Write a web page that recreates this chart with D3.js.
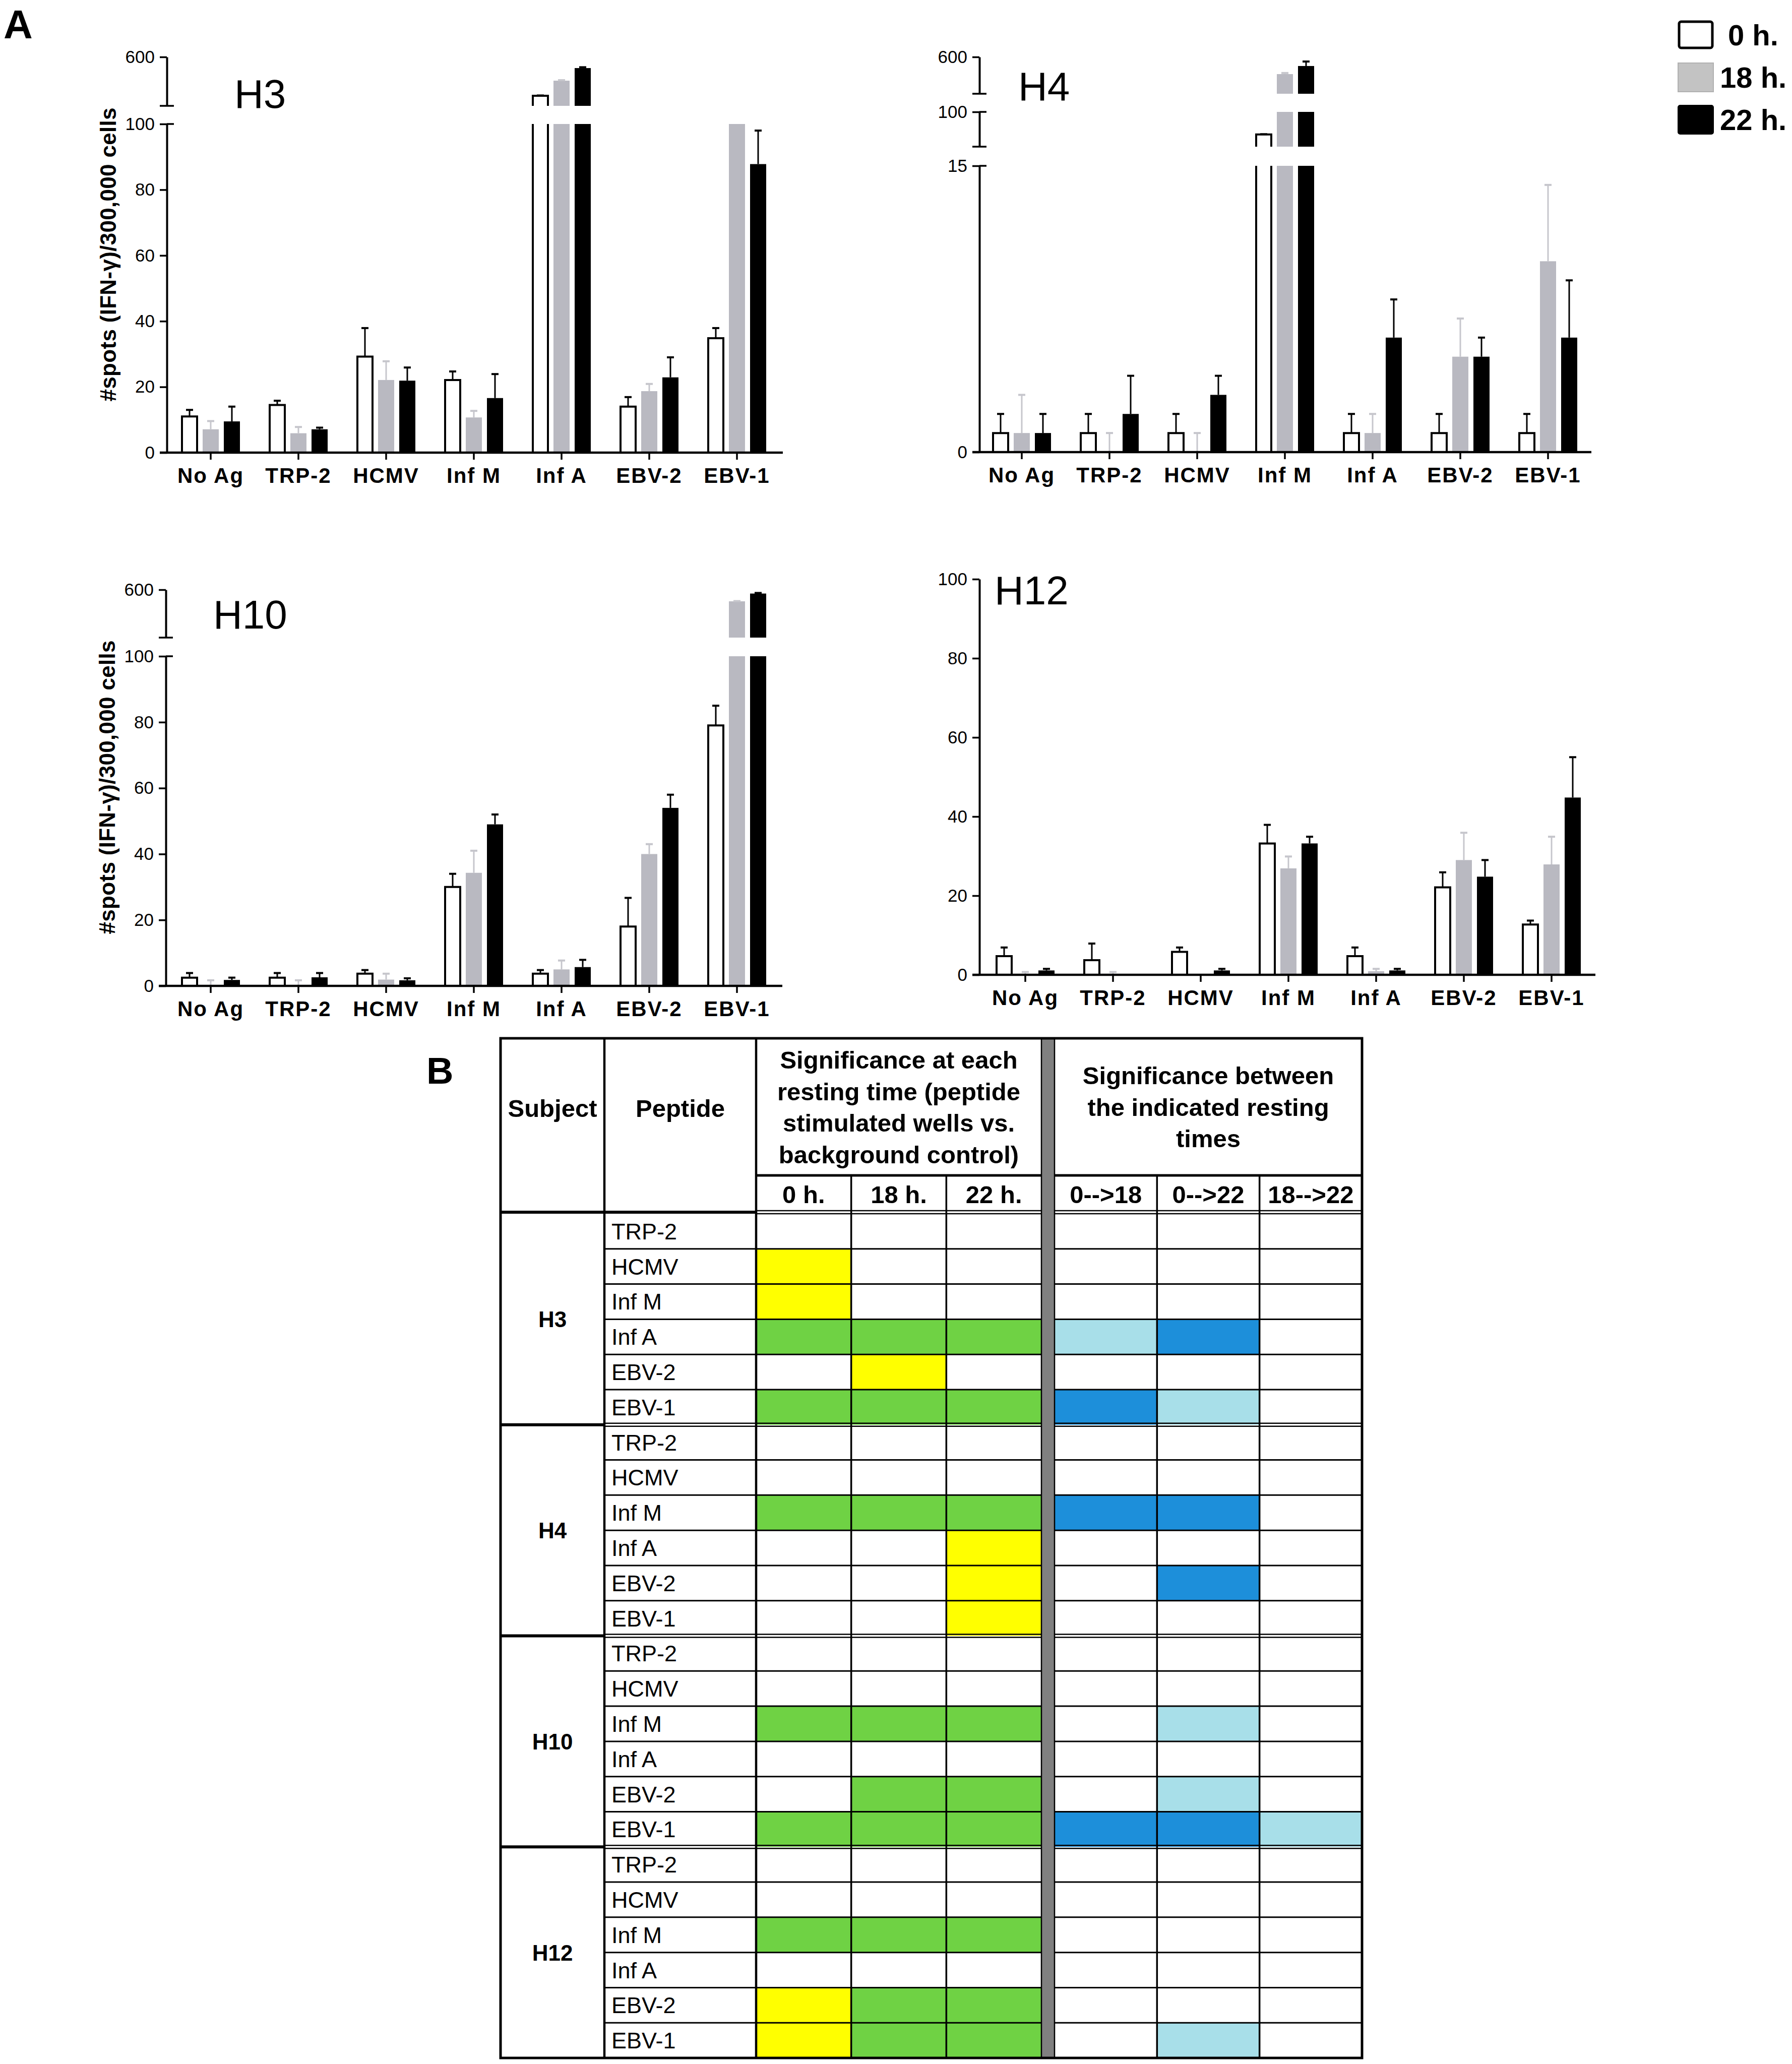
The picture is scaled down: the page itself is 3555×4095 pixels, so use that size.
<!DOCTYPE html>
<html><head><meta charset="utf-8">
<script src="https://cdn.jsdelivr.net/npm/d3@7"></script>
<style>
body{margin:0;background:#fff}
svg{display:block}
text{font-family:"Liberation Sans",Arial,Helvetica,sans-serif;fill:#000}
</style>
</head><body>
<script>
// ---------------- DATA ----------------
const categories = ["No Ag","TRP-2","HCMV","Inf M","Inf A","EBV-2","EBV-1"];
const seriesNames = ["0 h.","18 h.","22 h."];

// H3 (#spots / 300,000 cells), means and SD
const h3_0h  = [11, 14.5, 29.2, 22.1, 282, 14, 34.8];
const h3_18h = [7.1, 5.9, 22.1, 10.7, 406, 18.7, 140];
const h3_22h = [9.5, 7.1, 21.9, 16.6, 509, 22.9, 87.8];
const h3_0h_sd  = [2, 1.3, 8.7, 2.6, 3, 2.9, 3.1];
const h3_18h_sd = [2.5, 1.9, 5.7, 2, 4, 2.2, 0];
const h3_22h_sd = [4.5, 0.5, 4, 7.3, 7, 6.1, 10.2];
const h3Segments = [[0,100],[200,600]];
const h3Ticks = [[0,20,40,60,80,100],[600]];

// H4
const h4_0h  = [1, 1, 1, 45, 1, 1, 1];
const h4_18h = [1, 0, 0, 367, 1, 5, 10];
const h4_22h = [1, 2, 3, 477, 6, 5, 6];
const h4_0h_sd  = [1, 1, 1, 0.5, 1, 1, 1];
const h4_18h_sd = [2, 1, 1, 15, 1, 2, 4];
const h4_22h_sd = [1, 2, 1, 61, 2, 1, 3];
const h4Segments = [[0,15],[15,100],[100,600]];
const h4Ticks = [[0,15],[100],[600]];

// H10
const h10_0h  = [2.5, 2.5, 3.7, 30, 3.7, 18, 79];
const h10_18h = [0.3, 0.3, 1.9, 34.3, 5, 40, 503];
const h10_22h = [1.8, 2.6, 1.7, 49, 5.7, 54, 568];
const h10_0h_sd  = [1.4, 1.4, 1.1, 4, 1.1, 8.7, 6];
const h10_18h_sd = [1.4, 1.4, 1.8, 6.7, 2.7, 3, 2];
const h10_22h_sd = [0.7, 1.3, 0.6, 3, 2.2, 4, 5];
const h10Segments = [[0,100],[200,600]];
const h10Ticks = [[0,20,40,60,80,100],[600]];

// H12
const h12_0h  = [4.7, 3.7, 5.8, 33.2, 4.7, 22.1, 12.7];
const h12_18h = [0, 0, 0, 26.9, 0.9, 29, 27.9];
const h12_22h = [1.1, 0, 1.1, 33.2, 1.1, 24.8, 44.8];
const h12_0h_sd  = [2.2, 4.2, 1.1, 4.7, 2.2, 3.8, 1];
const h12_18h_sd = [0.7, 0.7, 0, 3, 0.6, 6.9, 7];
const h12_22h_sd = [0.4, 0, 0.4, 1.7, 0.4, 4.2, 10.2];
const h12Segments = [[0,100]];
const h12Ticks = [[0,20,40,60,80,100]];

const yAxisTitle = "#spots (IFN-\u03b3)/300,000 cells";

// Table B
const subjects = ["H3","H4","H10","H12"];
const peptides = ["TRP-2","HCMV","Inf M","Inf A","EBV-2","EBV-1"];
const timeCols = ["0 h.","18 h.","22 h."];
const changeCols = ["0-->18","0-->22","18-->22"];
// codes: Y = yellow, G = green, L = light blue, D = dark blue, - = none
const sigH3  = ["------","Y-----","Y-----","GGGLD-","-Y----","GGGDL-"];
const sigH4  = ["------","------","GGGDD-","--Y---","--Y-D-","--Y---"];
const sigH10 = ["------","------","GGG-L-","------","-GG-L-","GGGDDL"];
const sigH12 = ["------","------","GGG---","------","YGG---","YGG-L-"];
const headerLeft = ["Significance at each","resting time (peptide","stimulated wells vs.","background control)"];
const headerRight = ["Significance between","the indicated resting","times"];

// ---------------- DRAWING ----------------
const W = 3555, H = 4095;
const svg = d3.select("body").append("svg").attr("width", W).attr("height", H);

const barFill = ["#ffffff", "#b9b9c1", "#000000"];
const errColor = ["#000000", "#c6c6cc", "#000000"];

const panels = [
  {name:"H3", means:[h3_0h,h3_18h,h3_22h], sds:[h3_0h_sd,h3_18h_sd,h3_22h_sd], segs:h3Segments, ticks:h3Ticks,
   ranges:[[898,246],[210,113]], axisX:331, x0:331, x1:1549, xEnd:1553, title:[465,214], yLabel:[230,505]},
  {name:"H4", means:[h4_0h,h4_18h,h4_22h], sds:[h4_0h_sd,h4_18h_sd,h4_22h_sd], segs:h4Segments, ticks:h4Ticks,
   ranges:[[897,329],[291,222],[186,113]], axisX:1943, x0:1940, x1:3158, xEnd:3157, title:[2020,199]},
  {name:"H10", means:[h10_0h,h10_18h,h10_22h], sds:[h10_0h_sd,h10_18h_sd,h10_22h_sd], segs:h10Segments, ticks:h10Ticks,
   ranges:[[1956,1302],[1265,1170]], axisX:329, x0:331, x1:1549, xEnd:1552, title:[423,1247], yLabel:[228,1562]},
  {name:"H12", means:[h12_0h,h12_18h,h12_22h], sds:[h12_0h_sd,h12_18h_sd,h12_22h_sd], segs:h12Segments, ticks:h12Ticks,
   ranges:[[1934,1149]], axisX:1943, x0:1947, x1:3165, xEnd:3165, title:[1973,1199]}
];

function drawPanel(p){
  const g = svg.append("g");
  const x = d3.scaleBand().domain(categories).range([p.x0, p.x1]);
  const off = d3.scalePoint().domain(seriesNames).range([-42, 42]);
  const ys = p.segs.map((d,i)=>d3.scaleLinear().domain(d).range(p.ranges[i]));
  const base = p.ranges[0][0];

  // bars
  p.means.forEach((arr, s)=>{
    arr.forEach((v, i)=>{
      const cx = x(categories[i]) + x.bandwidth()/2 + off(seriesNames[s]);
      ys.forEach((y)=>{
        const [d0, d1] = y.domain();
        if (v <= d0) return;
        const top = Math.min(v, d1), yT = y(top), yB = y(d0);
        const closed = v <= d1;
        if (s === 0){
          const l = cx-15, r = cx+15;
          g.append("path")
            .attr("d", `M${l},${yB}V${yT}` + (closed ? `H${r}` : `M${r},${yT}`) + `V${yB}`)
            .attr("fill","none").attr("stroke","#000").attr("stroke-width",4);
        } else {
          g.append("rect").attr("x", cx-16).attr("width", 32)
            .attr("y", yT).attr("height", yB-yT).attr("fill", barFill[s]);
        }
      });
      // error bar
      const sd = p.sds[s][i];
      if (sd > 0){
        const y = ys.find(y=>{const [d0,d1]=y.domain(); return v>=d0 && v<=d1;});
        if (y){
          const y1 = y(v), y2 = y(Math.min(v+sd, y.domain()[1]));
          g.append("line").attr("x1",cx).attr("x2",cx).attr("y1",y1).attr("y2",y2)
            .attr("stroke",errColor[s]).attr("stroke-width",3);
          g.append("line").attr("x1",cx-7).attr("x2",cx+7).attr("y1",y2).attr("y2",y2)
            .attr("stroke",errColor[s]).attr("stroke-width",4);
        }
      }
    });
  });

  // y axis segments
  ys.forEach((y,k)=>{
    const ax = d3.axisLeft(y).tickValues(p.ticks[k]).tickSize(14).tickSizeOuter(0).tickPadding(10).tickFormat(d3.format("d"));
    const ag = g.append("g").attr("transform",`translate(${p.axisX},0)`).call(ax);
    ag.select(".domain").attr("stroke","#000").attr("stroke-width",4);
    ag.selectAll(".tick line").attr("stroke","#000").attr("stroke-width",3.5);
    ag.selectAll(".tick text").attr("font-size",35).attr("font-family",'"Liberation Sans",Arial,sans-serif').attr("fill","#000");
    if (k < ys.length-1){
      g.append("line").attr("x1",p.axisX).attr("x2",p.axisX+14).attr("y1",y.range()[1]).attr("y2",y.range()[1])
        .attr("stroke","#000").attr("stroke-width",3.5);
    }
    if (k > 0){
      g.append("line").attr("x1",p.axisX-14).attr("x2",p.axisX+14).attr("y1",y.range()[0]).attr("y2",y.range()[0])
        .attr("stroke","#000").attr("stroke-width",3.5);
    }
  });

  // x axis
  const xa = d3.axisBottom(x).tickSize(14).tickSizeOuter(0).tickPadding(16);
  const xg = g.append("g").attr("transform",`translate(0,${base})`).call(xa);
  xg.select(".domain").remove();
  xg.selectAll(".tick line").attr("stroke","#000").attr("stroke-width",3.5);
  xg.selectAll(".tick text").attr("font-size",42).attr("font-weight","bold")
    .attr("letter-spacing",2).attr("font-family",'"Liberation Sans",Arial,sans-serif').attr("fill","#000");
  xg.append("line").attr("x1",p.axisX-14).attr("x2",p.xEnd).attr("y1",0).attr("y2",0)
    .attr("stroke","#000").attr("stroke-width",4.5);

  // title
  g.append("text").attr("x",p.title[0]).attr("y",p.title[1]).attr("font-size",80).text(p.name);

  if (p.yLabel){
    g.append("text").attr("transform",`translate(${p.yLabel[0]},${p.yLabel[1]}) rotate(-90)`)
      .attr("text-anchor","middle").attr("font-size",44).attr("font-weight","bold")
      .attr("textLength",583).attr("lengthAdjust","spacing").text(yAxisTitle);
  }
}
panels.forEach(drawPanel);

// Legend
const leg = svg.append("g");
seriesNames.forEach((n,i)=>{
  const y0 = 41 + i*84;
  if (i === 0){
    leg.append("rect").attr("x",3331).attr("y",y0+2).attr("width",66).attr("height",52).attr("rx",4)
      .attr("fill","#fff").attr("stroke","#000").attr("stroke-width",5);
  } else {
    leg.append("rect").attr("x",3329).attr("y",y0).attr("width",70).attr("height",57).attr("rx",i===2?4:0)
      .attr("fill", i===1 ? "#c3c3c3" : "#000").attr("stroke", i===1 ? "#b0b0b0" : "#000").attr("stroke-width",2);
  }
  leg.append("text").attr("x", i===0 ? 3428 : 3412).attr("y", y0+49).attr("font-size",58).attr("font-weight","bold").text(n);
});

// panel letters
svg.append("text").attr("x",7).attr("y",76).attr("font-size",80).attr("font-weight","bold").text("A");
svg.append("text").attr("x",846).attr("y",2150).attr("font-size",74).attr("font-weight","bold").text("B");

// ---------------- TABLE ----------------
const T = {left:993, subjR:1199, pepR:1500, sepL:2066, sepR:2092, right:2702, top:2060, mid:2332, hdrB:2405, bodyTop:2408, bottom:4083};
const sigAll = [sigH3, sigH4, sigH10, sigH12];
const nRows = subjects.length * peptides.length;
const rowY = d3.scaleLinear().domain([0, nRows]).range([T.bodyTop, T.bottom]);
const rowH = rowY(1) - rowY(0);
const leftCols = d3.scaleBand().domain(timeCols).range([T.pepR, T.sepL]);
const rightCols = d3.scaleBand().domain(changeCols).range([T.sepR, T.right]);
const allCols = timeCols.map(c=>[leftCols(c), leftCols(c)+leftCols.bandwidth()])
  .concat(changeCols.map(c=>[rightCols(c), rightCols(c)+rightCols.bandwidth()]));
const sigColor = {Y:"#ffff00", G:"#6fd244", L:"#a8dfe9", D:"#1d8fda"};

const tg = svg.append("g");
// fills
sigAll.forEach((rows, si)=>{
  rows.forEach((codes, pi)=>{
    const r = si*peptides.length + pi;
    codes.split("").forEach((c, ci)=>{
      if (sigColor[c]){
        tg.append("rect").attr("x", allCols[ci][0]).attr("y", rowY(r))
          .attr("width", allCols[ci][1]-allCols[ci][0]).attr("height", rowH).attr("fill", sigColor[c]);
      }
    });
  });
});

function hline(x1,x2,y,w){ tg.append("line").attr("x1",x1).attr("x2",x2).attr("y1",y).attr("y2",y).attr("stroke","#000").attr("stroke-width",w); }
function vline(x,y1,y2,w){ tg.append("line").attr("x1",x).attr("x2",x).attr("y1",y1).attr("y2",y2).attr("stroke","#000").attr("stroke-width",w); }

// row lines
for (let r = 1; r < nRows; r++){
  const y = rowY(r);
  if (r % peptides.length === 0){
    hline(T.left, T.subjR, y, 6);
    hline(T.subjR, T.right, y-3, 2.5);
    hline(T.subjR, T.right, y+3, 2.5);
  } else {
    hline(T.subjR, T.right, y, 3);
  }
}
// header lines
hline(T.pepR, T.right, T.mid, 5);
hline(T.left, T.pepR, T.hdrB, 6);
hline(T.pepR, T.right, T.hdrB-3, 2.5);
hline(T.pepR, T.right, T.hdrB+3, 2.5);
// vertical lines
vline(T.subjR, T.top, T.bottom, 4.5);
vline(T.pepR, T.top, T.bottom, 4.5);
timeCols.slice(1).forEach(c=>vline(leftCols(c), T.mid, T.bottom, 3.5));
changeCols.slice(1).forEach(c=>vline(rightCols(c), T.mid, T.bottom, 3.5));
// separator
tg.append("rect").attr("x",T.sepL).attr("y",T.top).attr("width",T.sepR-T.sepL).attr("height",T.bottom-T.top)
  .attr("fill","#808080").attr("stroke","#000").attr("stroke-width",2.5);
// outer border
tg.append("rect").attr("x",T.left).attr("y",T.top).attr("width",T.right-T.left).attr("height",T.bottom-T.top)
  .attr("fill","none").attr("stroke","#000").attr("stroke-width",5);

// header text
const hf = 49;
tg.append("text").attr("x",(T.left+T.subjR)/2).attr("y",2216).attr("text-anchor","middle").attr("font-size",hf).attr("font-weight","bold").text("Subject");
tg.append("text").attr("x",(T.subjR+T.pepR)/2).attr("y",2216).attr("text-anchor","middle").attr("font-size",hf).attr("font-weight","bold").text("Peptide");
headerLeft.forEach((t,i)=>{
  tg.append("text").attr("x",(T.pepR+T.sepL)/2).attr("y",2120 + i*62.7).attr("text-anchor","middle").attr("font-size",hf).attr("font-weight","bold").text(t);
});
headerRight.forEach((t,i)=>{
  tg.append("text").attr("x",(T.sepR+T.right)/2).attr("y",2151 + i*62.7).attr("text-anchor","middle").attr("font-size",hf).attr("font-weight","bold").text(t);
});
timeCols.forEach(c=>{
  tg.append("text").attr("x",leftCols(c)+leftCols.bandwidth()/2).attr("y",2387).attr("text-anchor","middle").attr("font-size",hf).attr("font-weight","bold").text(c);
});
changeCols.forEach(c=>{
  tg.append("text").attr("x",rightCols(c)+rightCols.bandwidth()/2).attr("y",2387).attr("text-anchor","middle").attr("font-size",hf).attr("font-weight","bold").text(c);
});
// body text
subjects.forEach((s, si)=>{
  const yc = (rowY(si*peptides.length) + rowY((si+1)*peptides.length))/2;
  tg.append("text").attr("x",(T.left+T.subjR)/2).attr("y",yc+16).attr("text-anchor","middle")
    .attr("font-size",44).attr("font-weight","bold").text(s);
  peptides.forEach((p, pi)=>{
    const r = si*peptides.length + pi;
    tg.append("text").attr("x",1213).attr("y",rowY(r)+rowH/2+16).attr("font-size",45).text(p);
  });
});
</script>
</body></html>
